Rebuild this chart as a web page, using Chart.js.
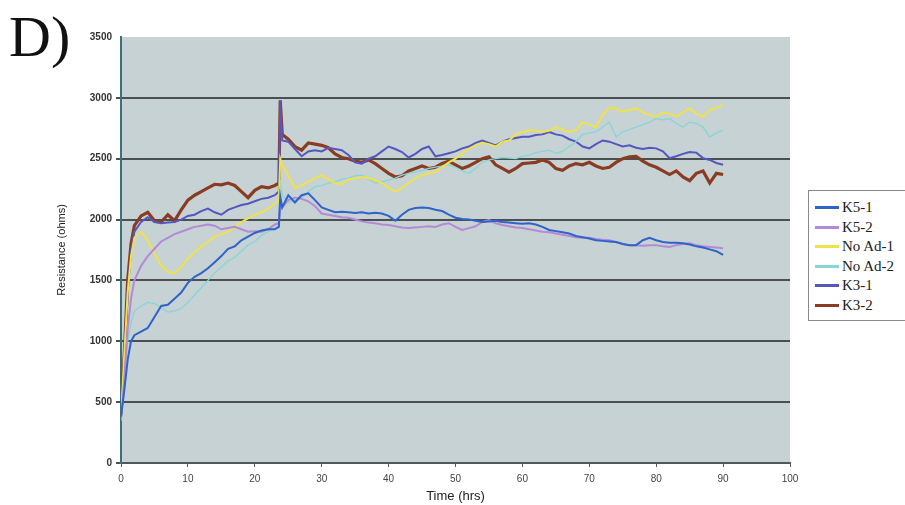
<!DOCTYPE html>
<html>
<head>
<meta charset="utf-8">
<script src="https://cdn.jsdelivr.net/npm/chart.js@4.4.1/dist/chart.umd.min.js"></script>
<style>
  html, body { margin: 0; padding: 0; background: #fff; }
  #wrap { position: relative; width: 905px; height: 505px; }
  #panel { position: absolute; left: 9px; top: 3px; font: 58px "Liberation Serif", serif; color: #111; }
  #legend { position: absolute; left: 808px; top: 190px; width: 100px; height: 131px; border: 1px solid #8a8a8a; background: #fff; box-sizing: border-box; padding: 7px 0 0 6px; }
  .item { height: 19.5px; font: 15px "Liberation Serif", serif; color: #222; white-space: nowrap; display: flex; align-items: center; }
  .sw { display: inline-block; width: 24px; height: 3px; margin-right: 3px; }
</style>
</head>
<body>
<div id="wrap">
  <canvas id="chart" width="905" height="505"></canvas>
  <div id="panel">D)</div>
  <div id="legend"></div>
</div>
<script>
// Time axis (hrs)
const times = [0, 0.5, 1, 1.5, 2,
  3, 4, 5, 6, 7, 8, 9, 10, 11, 12, 13, 14, 15, 16, 17, 18, 19, 20, 21, 22, 23,
  23.6, 23.8, 24.1,
  25, 26, 27, 28, 29, 30, 31, 32, 33, 34,
  35, 36, 37, 38, 39, 40, 41, 42, 43, 44,
  45, 46, 47, 48, 49, 50, 51, 52, 53, 54,
  55, 56, 57, 58, 59, 60, 61, 62, 63, 64,
  65, 66, 67, 68, 69, 70, 71, 72, 73, 74,
  75, 76, 77, 78, 79, 80, 81, 82, 83, 84,
  85, 86, 87, 88, 89, 90];

// Series (ohms)
const k5_1 = [380, 600, 850, 1000, 1050,
  1080, 1110, 1200, 1290, 1300, 1350, 1400, 1480, 1530, 1560, 1600, 1650, 1700, 1760, 1780, 1830, 1860, 1890, 1910, 1920, 1920,
  1940, 2190, 2100,
  2200, 2140, 2200, 2215, 2160, 2100, 2080, 2060, 2065, 2060,
  2055, 2060, 2050, 2055, 2050, 2030, 1990, 2040, 2080, 2095,
  2100, 2095, 2080, 2070, 2040, 2015, 2005, 2000, 1990, 1980,
  1985, 1990, 1980, 1975, 1970, 1965, 1970, 1960, 1940, 1915,
  1905, 1895, 1885, 1865, 1855, 1845, 1830, 1825, 1820, 1815,
  1800, 1790, 1790, 1830, 1850, 1830, 1815, 1810, 1810, 1805,
  1795, 1780, 1770, 1755, 1740, 1710];

const k5_2 = [350, 700, 1100, 1350, 1500,
  1620, 1700, 1760, 1820, 1850, 1880, 1900, 1920, 1940, 1950, 1960, 1950, 1920, 1930, 1940, 1920, 1900, 1905, 1900, 1920, 1960,
  1970, 2130, 2100,
  2160, 2180, 2170, 2150, 2110, 2050, 2040, 2030, 2020, 2015,
  2000, 1985, 1975, 1970, 1960, 1955, 1945, 1935, 1930, 1935,
  1940, 1945, 1940, 1960, 1970, 1940, 1915, 1930, 1945, 1980,
  1995, 1970, 1955, 1945, 1935, 1930, 1920, 1910, 1900, 1895,
  1885, 1875, 1865, 1855, 1850, 1850, 1840, 1835, 1830, 1815,
  1800, 1790, 1790, 1785, 1790, 1790, 1780, 1775, 1790, 1800,
  1805, 1790, 1780, 1775, 1770, 1765];

const noAd_1 = [380, 900, 1400, 1700, 1850,
  1900, 1830, 1720, 1620, 1570, 1560, 1610, 1680, 1730, 1780, 1820, 1860, 1880, 1900, 1940, 1980, 2010, 2040, 2060, 2090, 2130,
  2160, 2500, 2450,
  2360, 2260, 2280, 2310, 2340, 2365, 2330, 2300, 2290, 2330,
  2340, 2350, 2340, 2325, 2300, 2260, 2230, 2260, 2300, 2340,
  2365, 2380, 2390, 2430, 2470, 2500, 2545, 2580, 2610, 2630,
  2620, 2600, 2640, 2650, 2700, 2720, 2735, 2730, 2720, 2730,
  2760, 2740, 2720, 2735, 2800, 2780, 2760, 2860, 2920, 2910,
  2885, 2900, 2915, 2880, 2860, 2845, 2880, 2870, 2845, 2880,
  2915, 2870, 2845, 2900, 2920, 2940];

const noAd_2 = [350, 700, 1000, 1150, 1250,
  1290, 1320, 1310, 1280, 1240, 1250, 1270, 1320, 1380, 1440, 1500, 1560, 1610, 1660, 1690, 1740, 1790, 1820, 1870, 1900, 1930,
  1950, 2320, 2200,
  2140, 2160, 2180, 2230, 2270, 2280, 2300, 2310, 2330, 2340,
  2360, 2365, 2330, 2300, 2310, 2325, 2340, 2365, 2380, 2390,
  2405, 2420, 2430, 2440, 2450, 2430, 2400, 2380, 2420, 2470,
  2490, 2500, 2510, 2505, 2500, 2520, 2530, 2550, 2560, 2570,
  2545, 2560, 2600, 2640, 2700, 2710, 2720, 2760, 2800, 2680,
  2720, 2740, 2760, 2780, 2800, 2830, 2820, 2830, 2790, 2760,
  2800, 2790, 2760, 2680, 2710, 2735];

const k3_1 = [380, 800, 1400, 1750, 1900,
  1980, 2020, 1980, 1970, 1975, 1980, 2000, 2030, 2040, 2070, 2090, 2060, 2040, 2080, 2100, 2120, 2130, 2150, 2170, 2180, 2200,
  2230, 2980, 2650,
  2640, 2580, 2520, 2560, 2570, 2560, 2590, 2580, 2570, 2530,
  2470, 2460, 2500, 2520, 2560, 2600, 2580, 2555, 2510, 2540,
  2580, 2600, 2520, 2530, 2545, 2560, 2585, 2600, 2630, 2650,
  2630, 2610, 2640, 2660, 2670, 2680, 2680, 2695, 2700, 2720,
  2700, 2690, 2660, 2640, 2600, 2585, 2620, 2650, 2640, 2620,
  2600, 2610, 2590, 2580, 2590, 2585, 2560, 2505, 2520, 2540,
  2555, 2550, 2505, 2490, 2465, 2450];

const k3_2 = [400, 900, 1500, 1800, 1950,
  2030, 2060, 1990, 1980, 2040, 1990, 2080, 2160, 2200, 2230, 2260, 2290, 2285, 2300, 2280, 2230, 2180, 2240, 2270, 2260, 2280,
  2300, 2980, 2700,
  2660, 2600, 2570, 2630, 2620, 2610, 2590, 2540, 2510, 2500,
  2480, 2470, 2490, 2460, 2420, 2380, 2350, 2360, 2400, 2420,
  2440, 2420, 2430, 2460, 2480, 2450, 2420, 2440, 2470, 2500,
  2515, 2450, 2420, 2390, 2420, 2460, 2465, 2470, 2490, 2470,
  2420, 2405, 2440, 2460, 2450, 2470, 2440, 2420, 2430, 2470,
  2500, 2515, 2520, 2480, 2450, 2430, 2400, 2370, 2400, 2350,
  2320, 2380, 2400, 2300, 2380, 2370];

const seriesNames = ['K5-1', 'K5-2', 'No Ad-1', 'No Ad-2', 'K3-1', 'K3-2'];
const seriesValues = [k5_1, k5_2, noAd_1, noAd_2, k3_1, k3_2];
const seriesColors = ['#2f63c8', '#b48ad6', '#efe24a', '#86d6d8', '#5656bf', '#8a3c22'];
const seriesWidths = [2, 2, 2, 1.3, 2, 3.2];

// Plot background
const plotBackground = {
  id: 'plotBackground',
  beforeDraw(chart) {
    const { ctx, chartArea: a } = chart;
    ctx.save();
    ctx.fillStyle = '#c6d2d3';
    ctx.fillRect(a.left, a.top, a.right - a.left, a.bottom - a.top);
    ctx.restore();
  }
};

const datasets = seriesNames.map(function (name, i) {
  return {
    label: name,
    data: times.map(function (t, j) { return { x: t, y: seriesValues[i][j] }; }),
    borderColor: seriesColors[i],
    backgroundColor: seriesColors[i],
    borderWidth: seriesWidths[i],
    pointRadius: 0,
    tension: 0
  };
});

new Chart(document.getElementById('chart'), {
  type: 'line',
  data: { datasets: datasets },
  options: {
    responsive: false,
    animation: false,
    layout: { padding: { left: 55, top: 37, right: 115, bottom: 1 } },
    plugins: { legend: { display: false }, tooltip: { enabled: false } },
    scales: {
      x: {
        type: 'linear',
        min: 0,
        max: 100,
        afterFit: function (s) { s.height = 41; },
        ticks: { stepSize: 10, color: '#444', font: { family: 'Liberation Sans', size: 10 }, padding: 6, callback: function (v) { return String(v); } },
        grid: { drawOnChartArea: false, drawTicks: true, tickLength: 4, color: '#556' },
        border: { color: '#505a5c', width: 2 },
        title: { display: true, text: 'Time (hrs)', color: '#222', font: { family: 'Liberation Sans', size: 13 }, padding: { top: 2, bottom: 0 } }
      },
      y: {
        min: 0,
        max: 3500,
        afterFit: function (s) { s.width = 66; },
        ticks: { stepSize: 500, color: '#333', font: { family: 'Liberation Sans', size: 10, weight: 'bold' }, padding: 4, callback: function (v) { return String(v); } },
        grid: {
          color: function (c) { return (c.tick && c.tick.value === 3500) ? 'rgba(0,0,0,0)' : '#4b4f50'; },
          lineWidth: 2,
          drawTicks: true,
          tickLength: 5
        },
        border: { color: '#3f7077', width: 2 },
        title: { display: true, text: 'Resistance (ohms)', color: '#222', font: { family: 'Liberation Sans', size: 11 }, padding: 0 }
      }
    }
  },
  plugins: [plotBackground]
});

// Legend
const legend = document.getElementById('legend');
seriesNames.forEach(function (name, i) {
  const row = document.createElement('div');
  row.className = 'item';
  const sw = document.createElement('span');
  sw.className = 'sw';
  sw.style.background = seriesColors[i];
  row.appendChild(sw);
  row.appendChild(document.createTextNode(name));
  legend.appendChild(row);
});
</script>
</body>
</html>
